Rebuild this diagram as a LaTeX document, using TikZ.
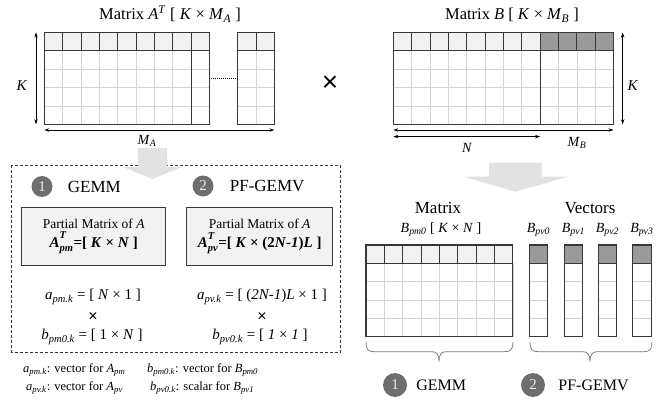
\documentclass[tikz,border=0pt]{standalone}
\usepackage{fontspec}
\setmainfont{Liberation Serif}
\newfontfamily\sansx{Liberation Sans}
\usetikzlibrary{arrows.meta, positioning}

\definecolor{hdr}{HTML}{F2F2F2}
\definecolor{hdrdark}{HTML}{9A9A9A}
\definecolor{gridline}{HTML}{D4D4D4}
\definecolor{edge}{HTML}{383838}
\definecolor{numfill}{HTML}{6E6E6E}
\definecolor{arrowfill}{HTML}{E2E2E2}

\newcommand{\fsz}[1]{\fontsize{#1}{#1}\selectfont}
\newcommand{\isub}[1]{\textsubscript{\textit{#1}}}
\newcommand{\isupsub}[2]{\rlap{\raisebox{0.2em}{\textsuperscript{#1}}}\raisebox{-0.12em}{\textsubscript{#2}}}
\newcommand{\cellw}{18.35}

% block of cells: header row + 4 body rows
\newcommand{\gridblock}[4]{%
  \fill[#4] (#1,#2) rectangle ++({#3*\cellw},\cellw);
  \fill[white] (#1,{#2+\cellw}) rectangle ++({#3*\cellw},{4*\cellw});
  \foreach \i in {0,...,#3}
    \draw[gridln] ({#1+\i*\cellw},{#2+\cellw}) -- ++(0,{4*\cellw});
  \foreach \j in {2,3,4}
    \draw[gridln] (#1,{#2+\j*\cellw}) -- ++({#3*\cellw},0);
  \foreach \i in {0,...,#3}
    \draw[hdrln] ({#1+\i*\cellw},#2) -- ++(0,\cellw);
  \draw[hdrln] (#1,{#2+\cellw}) -- ++({#3*\cellw},0);
  \draw[border] (#1,#2) rectangle ++({#3*\cellw},{5*\cellw});
}

\begin{document}
\begin{tikzpicture}[x=1pt, y=-1pt, >={Stealth[length=5pt,width=3.4pt]},
    gridln/.style={draw=gridline, line width=0.6pt},
    hdrln/.style={draw=edge, line width=0.7pt},
    border/.style={draw=edge, line width=1.1pt},
    dim/.style={<->, line width=0.7pt},
    lbl/.style={inner sep=1pt, font=\fsz{14}},
    title/.style={inner sep=1pt, font=\fsz{16.5}},
    head/.style={inner sep=1pt, font=\fsz{17}},
    num/.style={circle, fill=numfill, text=white!92!black, minimum size=21pt, inner sep=0pt, font=\fsz{15}},
    pbox/.style={draw=edge, fill=hdr, line width=1pt, minimum width=144pt, minimum height=58pt, align=center, font=\fontsize{13.5}{19}\selectfont},
    eqn/.style={inner sep=1pt, font=\fsz{15}},
    times/.style={inner sep=1pt, font=\sansx\fsz{16}},
    note/.style={inner sep=1pt, anchor=west, font=\fsz{12.5}},
    bigarrow/.style={fill=arrowfill},
    dashbox/.style={draw=edge, dash pattern=on 3pt off 2pt, line width=0.8pt},
    brace/.style={draw=black!55, line width=0.7pt}]

    \useasboundingbox (0,0) rectangle (665,404);

    % Matrix A^T
    \node[title] (ta) at (170,14) {Matrix \textit{A}\textsuperscript{\textit{T}} [ \textit{K} × \textit{M}\isub{A} ]};
    \gridblock{44.3}{32.5}{8}{hdr}
    \gridblock{191.1}{32.5}{1}{hdr}
    \gridblock{237.7}{32.5}{2}{hdr}
    \coordinate (dots-l) at (209.45,78.4);
    \coordinate (dots-r) at (237.7,78.4);
    \draw[line width=0.9pt, dash pattern=on 1pt off 1pt] (dots-l) -- (dots-r);

    \coordinate (ka-top) at (36,32.5);
    \coordinate (ka-bot) at (36,124.3);
    \draw[dim] (ka-top) -- (ka-bot);
    \node[lbl, font=\fsz{15}] (ka) at (22,86) {\textit{K}};
    \coordinate (ma-l) at (44.3,130);
    \coordinate (ma-r) at (274.4,130);
    \draw[dim] (ma-l) -- (ma-r);
    \node[lbl] (ma) at (147,141) {\textit{M}\isub{A}};

    \node[inner sep=0pt, font=\sansx\fsz{28}] (mul) at (330,84) {×};

    % Matrix B
    \node[title] (tb) at (512,15) {Matrix \textit{B} [ \textit{K} × \textit{M}\isub{B} ]};
    \gridblock{393.3}{32.5}{8}{hdr}
    \gridblock{540.1}{32.5}{4}{hdrdark}

    \coordinate (kb-top) at (622.7,32.5);
    \coordinate (kb-bot) at (622.7,124.3);
    \draw[dim] (kb-top) -- (kb-bot);
    \node[lbl, font=\fsz{15}] (kb) at (633,86) {\textit{K}};
    \coordinate (mb-l) at (393.3,130);
    \coordinate (mb-r) at (613.5,130);
    \draw[dim] (mb-l) -- (mb-r);
    \coordinate (nb-l) at (393.3,136.6);
    \coordinate (nb-r) at (540.1,136.6);
    \draw[dim] (nb-l) -- (nb-r);
    \node[lbl] (nb) at (467,148) {\textit{N}};
    \node[lbl] (mb) at (577,143) {\textit{M}\isub{B}};

    % left part: partial matrices of A
    \draw[dashbox] (11.7,165) rectangle (340.5,352);
    \fill[bigarrow] (138,148) -- (167,148) -- (167,167) -- (182,167) -- (152.5,179) -- (123,167) -- (138,167) -- cycle;

    \node[num] (n1) at (42,186.5) {1};
    \node[head, right=14pt of n1] (g1) {GEMM};
    \node[num] (n2) at (203,186) {2};
    \node[head, right=15pt of n2] (g2) {PF-GEMV};

    \node[pbox] (p1) at (93.8,236) {Partial Matrix of \textit{A}\\
        \fsz{15}\textbf{\textit{A}\isupsub{\textit{T}}{\textit{pm}}=[ \textit{K} × \textit{N} ]}};
    \node[pbox, minimum width=146pt] (p2) at (259.7,236.3) {Partial Matrix of \textit{A}\\
        \fsz{15}\textbf{\textit{A}\isupsub{\textit{T}}{\textit{pv}}=[ \textit{K} × (2\textit{N}-\textit{1})\textit{L} ]}};

    \node[eqn] (apm) at (93,297) {\textit{a}\isub{pm.k} = [ \textit{N} × 1 ]};
    \node[times] (x1) at (93,317) {×};
    \node[eqn] (bpm) at (92,337) {\textit{b}\isub{pm0.k} = [ 1 × \textit{N} ]};
    \node[eqn] (apv) at (262,297) {\textit{a}\isub{pv.k} = [ (\textit{2N-1})\textit{L} × 1 ]};
    \node[times] (x2) at (262,317) {×};
    \node[eqn] (bpv) at (260,337) {\textit{b}\isub{pv0.k} = [ \textit{1} × \textit{1} ]};

    % notation
    \node[note] (l1) at (22,370) {\textit{a}\isub{pm.k}: vector for \textit{A}\isub{pm}};
    \node[note] (l2) at (146,370) {\textit{b}\isub{pm0.k}: vector for \textit{B}\isub{pm0}};
    \node[note] (l3) at (25,388) {\textit{a}\isub{pv.k}: vector for \textit{A}\isub{pv}};
    \node[note] (l4) at (149,388) {\textit{b}\isub{pv0.k}: scalar for \textit{B}\isub{pv1}};

    % right part: split of B
    \fill[bigarrow] (489,162.7) -- (541.7,162.7) -- (541.7,176.7) -- (568.3,176.7) -- (515.3,191.7) -- (463.3,176.7) -- (489,176.7) -- cycle;

    \node[head] (hm) at (438,208) {Matrix};
    \node[lbl] (bpm0) at (441,230) {\textit{B}\isub{pm0} [ \textit{K} × \textit{N} ]};
    \gridblock{366}{245}{8}{hdr}

    \node[head] (hv) at (590,208) {Vectors};
    \foreach \x/\k in {529.3/0, 564.3/1, 598.3/2, 632.7/3} {
        \gridblock{\x}{245}{1}{hdrdark}
        \node[lbl] (bpv\k) at ({\x+\cellw/2},230) {\textit{B}\isub{pv\k}};
    }

    \draw[brace] (366,342) .. controls (366,349) and (368,351.7) .. (374,351.7) -- (432,351.7)
        .. controls (437,351.7) and (439,355) .. (439,361.7)
        .. controls (439,355) and (441,351.7) .. (446,351.7) -- (505,351.7)
        .. controls (511,351.7) and (513,349) .. (513,342);
    \draw[brace] (530,342) .. controls (530,349) and (532,351.7) .. (538,351.7) -- (583,351.7)
        .. controls (588,351.7) and (590,355) .. (590,361.7)
        .. controls (590,355) and (592,351.7) .. (597,351.7) -- (644,351.7)
        .. controls (650,351.7) and (652,349) .. (652,342);

    \node[num, minimum size=24pt] (m1) at (395,385) {1};
    \node[head, font=\fsz{16}, right=8pt of m1] (mg1) {GEMM};
    \node[num, minimum size=24pt] (m2) at (533,385) {2};
    \node[head, font=\fsz{16}, right=12pt of m2] (mg2) {PF-GEMV};
\end{tikzpicture}
\end{document}
